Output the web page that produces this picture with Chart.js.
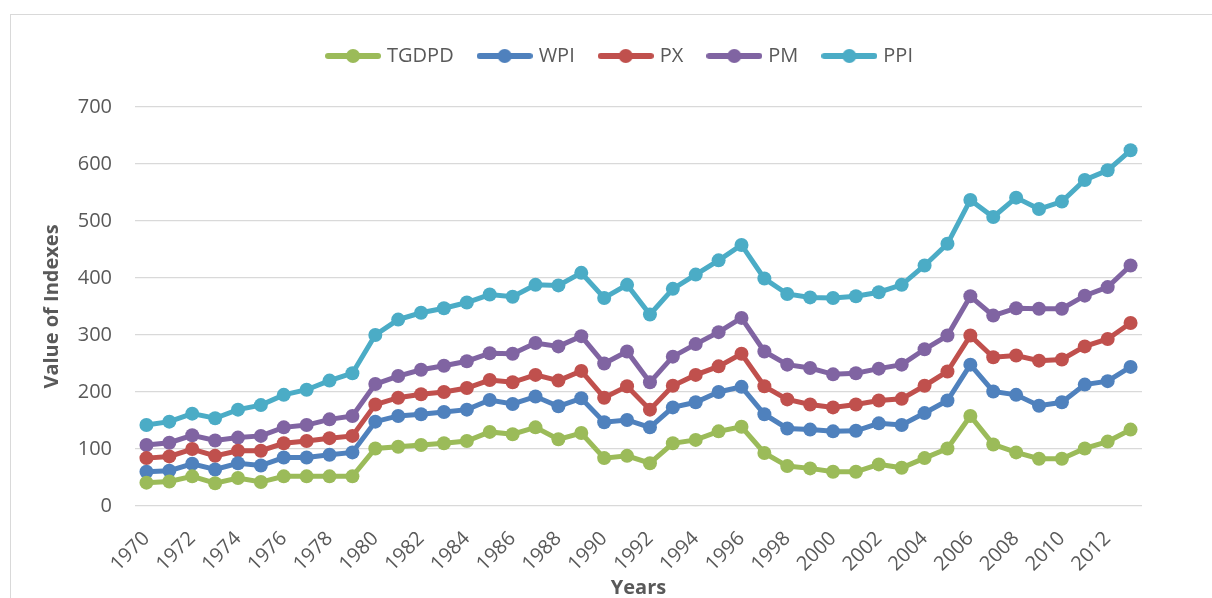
<!DOCTYPE html>
<html>
<head>
<meta charset="utf-8">
<script src="https://cdn.jsdelivr.net/npm/chart.js@4.4.1/dist/chart.umd.min.js"></script>
<style>
  html, body { margin: 0; padding: 0; background: #ffffff; overflow: hidden; width: 1212px; height: 598px; }
  #frame { position: absolute; left: 10px; top: 14px; width: 1400px; height: 800px; border: 1px solid #d9d9d9; box-sizing: border-box; }
  #c { position: absolute; left: 0; top: 0; }
</style>
</head>
<body>
<div id="frame"></div>
<canvas id="c" width="1212" height="598"></canvas>
<script>
const years = ["1970","1971","1972","1973","1974","1975","1976","1977","1978","1979",
               "1980","1981","1982","1983","1984","1985","1986","1987","1988","1989",
               "1990","1991","1992","1993","1994","1995","1996","1997","1998","1999",
               "2000","2001","2002","2003","2004","2005","2006","2007","2008","2009",
               "2010","2011","2012","2013"];
const xTickLabels = ["1970","1972","1974","1976","1978","1980","1982","1984","1986","1988","1990",
                     "1992","1994","1996","1998","2000","2002","2004","2006","2008","2010","2012"];
const yTicks = [0,100,200,300,400,500,600,700];

const TGDPD = [41,43,52,40,49,42,52,52,52,52,
               101,104,107,110,114,130,126,138,117,128,
               84,88,75,110,116,131,139,93,70,66,
               60,60,73,67,84,101,158,108,94,83,
               83,101,113,134];
const WPI   = [60,62,74,64,75,71,85,85,90,94,
               148,158,161,165,169,186,179,192,175,189,
               147,151,138,173,182,200,209,161,136,134,
               131,132,145,142,163,185,248,201,195,176,
               182,213,219,244];
const PX    = [84,87,100,88,97,97,110,114,119,123,
               178,190,196,200,207,221,217,230,220,237,
               190,210,169,211,230,245,267,210,187,178,
               173,178,185,188,211,236,299,261,264,255,
               257,280,293,321];
const PM    = [107,111,124,115,120,123,138,142,152,158,
               214,228,239,246,254,268,267,286,280,298,
               250,271,217,262,284,305,330,271,248,242,
               231,233,241,248,275,299,368,334,347,346,
               346,369,384,422];
const PPI   = [142,148,162,154,169,177,195,204,220,233,
               300,327,339,347,357,371,367,388,387,409,
               365,388,336,381,406,431,458,399,372,366,
               365,368,375,388,422,460,537,507,541,521,
               534,572,589,624];

const seriesNames = ["TGDPD","WPI","PX","PM","PPI"];
const seriesData = [TGDPD, WPI, PX, PM, PPI];
const seriesColors = ["#9BBB59","#4F81BD","#C0504D","#8064A2","#4BACC6"];

const TEXT = "#595959";
const GRID = "#d9d9d9";
Chart.defaults.font.family = "'Open Sans', sans-serif";

function legendIcon(color) {
  const cv = document.createElement('canvas');
  cv.width = 56; cv.height = 16;
  const g = cv.getContext('2d');
  g.strokeStyle = color; g.lineWidth = 6; g.lineCap = 'round';
  g.beginPath(); g.moveTo(3, 8); g.lineTo(53, 8); g.stroke();
  g.fillStyle = color;
  g.beginPath(); g.arc(28, 8, 7, 0, Math.PI * 2); g.fill();
  return cv;
}
const icons = seriesColors.map(legendIcon);

const datasets = seriesNames.map((name, i) => ({
  label: name,
  data: seriesData[i],
  borderColor: seriesColors[i],
  backgroundColor: seriesColors[i],
  pointBackgroundColor: seriesColors[i],
  pointBorderColor: seriesColors[i],
  borderWidth: 5,
  pointRadius: 7,
  pointBorderWidth: 0,
  pointHoverRadius: 7,
  tension: 0,
  fill: false
}));

const legendPlacePlugin = {
  id: 'legendPlace',
  beforeLayout(chart) {
    const lg = chart.legend;
    if (lg && !lg._fixedFit) {
      const orig = lg.fit;
      lg.fit = function () { orig.call(this); this.height = 88; };
      lg._fixedFit = true;
    }
  },
  afterLayout(chart) {
    const lg = chart.legend;
    if (lg) { lg.left = 100; lg.width = lg.right - lg.left; }
  }
};

new Chart(document.getElementById('c'), {
  type: 'line',
  data: { labels: years, datasets },
  plugins: [legendPlacePlugin],
  options: {
    responsive: false,
    animation: false,
    layout: { padding: { left: 10, right: 70, top: 19, bottom: 0 } },
    plugins: {
      tooltip: { enabled: false },
      legend: {
        position: 'top',
        align: 'center',
        labels: {
          usePointStyle: true,
          pointStyleWidth: 48,
          padding: 27,
          color: TEXT,
          font: { size: 20 },
          generateLabels(chart) {
            const items = Chart.defaults.plugins.legend.labels.generateLabels(chart);
            items.forEach((it) => { it.pointStyle = icons[it.datasetIndex]; });
            return items;
          }
        }
      }
    },
    scales: {
      x: {
        type: 'category',
        offset: true,
        grid: { display: false, drawTicks: false },
        border: { display: false },
        ticks: {
          autoSkip: false,
          maxRotation: 45,
          minRotation: 45,
          padding: 21,
          color: TEXT,
          font: { size: 20 },
          callback(value, index) {
            const lbl = this.getLabelForValue(value);
            return xTickLabels.includes(lbl) ? lbl : '';
          }
        },
        title: {
          display: true,
          text: 'Years',
          color: TEXT,
          font: { size: 20, weight: 'bold' },
          padding: { top: 0, bottom: -2 }
        },
        afterFit(scale) { scale.height = 92; scale.paddingLeft = 0; scale.paddingRight = 0; }
      },
      y: {
        min: 0,
        max: 700,
        afterBuildTicks(scale) { scale.ticks = yTicks.map(v => ({ value: v })); },
        grid: { color: GRID, lineWidth: 1.3, drawTicks: false },
        border: { display: false },
        ticks: { padding: 23, color: TEXT, font: { size: 20 } },
        title: {
          display: true,
          text: 'Value of Indexes',
          color: TEXT,
          font: { size: 20, weight: 'bold' },
          padding: { top: 30, bottom: 0 }
        },
        afterFit(scale) { scale.width = 125; }
      }
    }
  }
});
</script>
</body>
</html>
